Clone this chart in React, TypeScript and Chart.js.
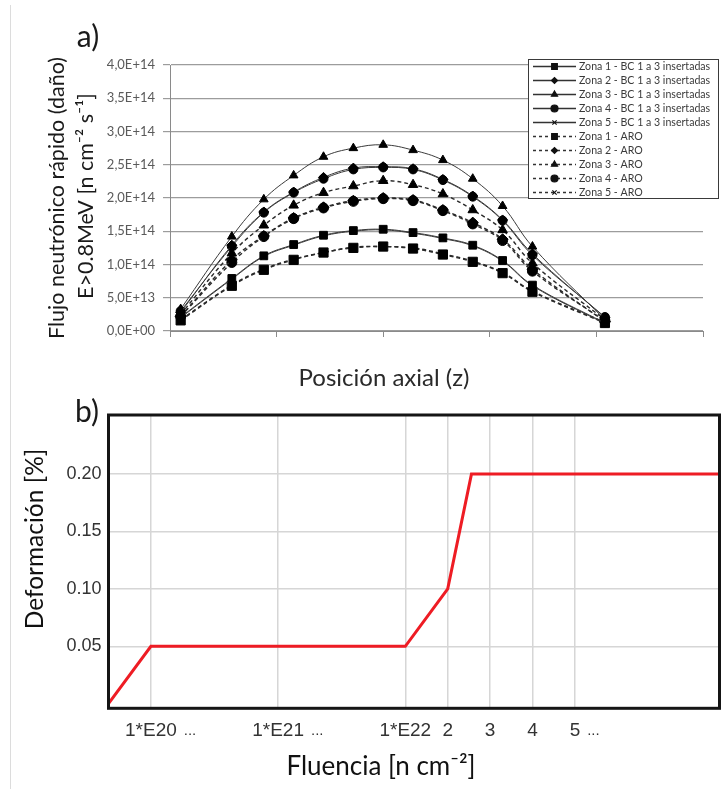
import React, { useEffect, useRef } from 'react';
import { Chart, registerables } from 'chart.js';
import { drawPoint } from 'chart.js/helpers';

Chart.register(...registerables);

// ---------------- Panel a) data ----------------
const AXIAL_POSITIONS = [5, 29, 44, 58, 72, 86, 100, 114, 128, 142, 156, 170, 204];
const ZONA1_BC = [0.21, 0.79, 1.13, 1.3, 1.44, 1.51, 1.53, 1.48, 1.4, 1.29, 1.06, 0.69, 0.12];
const ZONA2_BC = [0.28, 1.29, 1.79, 2.09, 2.31, 2.45, 2.47, 2.44, 2.28, 2.03, 1.67, 1.16, 0.2];
const ZONA3_BC = [0.33, 1.42, 1.98, 2.34, 2.62, 2.75, 2.8, 2.72, 2.57, 2.29, 1.88, 1.27, 0.17];
const ZONA4_BC = [0.3, 1.27, 1.78, 2.08, 2.29, 2.43, 2.46, 2.43, 2.27, 2.02, 1.66, 1.14, 0.21];
const ZONA5_BC = [0.2, 0.78, 1.12, 1.29, 1.43, 1.5, 1.52, 1.47, 1.39, 1.28, 1.05, 0.68, 0.11];
const ZONA1_ARO = [0.16, 0.68, 0.92, 1.07, 1.18, 1.25, 1.27, 1.24, 1.15, 1.04, 0.87, 0.59, 0.12];
const ZONA2_ARO = [0.22, 1.07, 1.43, 1.7, 1.86, 1.96, 2.0, 1.97, 1.82, 1.63, 1.38, 0.93, 0.14];
const ZONA3_ARO = [0.25, 1.17, 1.59, 1.89, 2.08, 2.18, 2.26, 2.2, 2.06, 1.82, 1.52, 1.02, 0.17];
const ZONA4_ARO = [0.22, 1.03, 1.42, 1.69, 1.85, 1.95, 1.99, 1.96, 1.81, 1.61, 1.36, 0.9, 0.15];
const ZONA5_ARO = [0.17, 0.69, 0.93, 1.08, 1.18, 1.26, 1.27, 1.25, 1.16, 1.05, 0.88, 0.6, 0.13];
const FLUX_UNIT = 1e14;
const SERIES_LABELS = [
  'Zona 1 - BC 1 a 3 insertadas',
  'Zona 2 - BC 1 a 3 insertadas',
  'Zona 3 - BC 1 a 3 insertadas',
  'Zona 4 - BC 1 a 3 insertadas',
  'Zona 5 - BC 1 a 3 insertadas',
  'Zona 1 - ARO',
  'Zona 2 - ARO',
  'Zona 3 - ARO',
  'Zona 4 - ARO',
  'Zona 5 - ARO',
];
const SERIES_VALUES = [ZONA1_BC, ZONA2_BC, ZONA3_BC, ZONA4_BC, ZONA5_BC, ZONA1_ARO, ZONA2_ARO, ZONA3_ARO, ZONA4_ARO, ZONA5_ARO];
const FLUX_TICK_VALUES = [0, 0.5, 1, 1.5, 2, 2.5, 3, 3.5, 4];
const FLUX_TICK_LABELS = ['0,0E+00', '5,0E+13', '1,0E+14', '1,5E+14', '2,0E+14', '2,5E+14', '3,0E+14', '3,5E+14', '4,0E+14'];
const AXIAL_TICKS = [0, 50, 100, 150, 200, 250];

// ---------------- Panel b) data ----------------
const FLUENCE_POS = [0, 1, 7, 8, 8.56, 14.41];
const STRAIN = [0, 0.05, 0.05, 0.1, 0.2, 0.2];
const FLUENCE_TICK_POS = [1, 4, 7, 8, 9, 10, 11];
const FLUENCE_TICK_LABELS = ['1*E20', '1*E21', '1*E22', '2', '3', '4', '5'];
const FLUENCE_TICK_SUFFIX = ['...', '...', '', '', '', '', '...'];
const STRAIN_TICKS = [0.05, 0.1, 0.15, 0.2];

// ---------------- styles ----------------
const POINT_STYLES = ['rect', 'rectRot', 'triangle', 'circle', 'crossRot'];
const POINT_RADII_BC = [5.5, 5, 5, 4.5, 4];
const POINT_RADII_ARO = [6.5, 5.5, 5.5, 5, 4];
const LEGEND_RADII = [4, 3, 3.5, 3.5, 3];
const SANS = 'Lato, "Open Sans", sans-serif';
const ARIAL = '"Liberation Sans", Arial, sans-serif';

type Caption = { text: string; x: number; y: number; font: string; color: string; rotate?: boolean; align?: CanvasTextAlign };

const captionsPlugin = (id: string, items: Caption[]) => ({
  id,
  afterDraw(chart: any) {
    const ctx = chart.ctx as CanvasRenderingContext2D;
    items.forEach((c) => {
      ctx.save();
      ctx.font = c.font;
      ctx.fillStyle = c.color;
      ctx.textAlign = c.align || 'center';
      ctx.textBaseline = 'middle';
      ctx.translate(c.x, c.y);
      if (c.rotate) ctx.rotate(-Math.PI / 2);
      ctx.fillText(c.text, 0, 0);
      ctx.restore();
    });
  },
});

const legendBoxPlugin = {
  id: 'legendBox',
  afterDraw(chart: any) {
    const ctx = chart.ctx as CanvasRenderingContext2D;
    const x0 = 528.5, y0 = 59.5, w = 190, h = 139;
    ctx.save();
    ctx.fillStyle = '#ffffff';
    ctx.fillRect(x0, y0, w, h);
    ctx.strokeStyle = '#3a3a3a';
    ctx.lineWidth = 1;
    ctx.strokeRect(x0, y0, w, h);
    chart.data.datasets.forEach((ds: any, i: number) => {
      const y = 66.5 + i * 14;
      ctx.strokeStyle = '#333';
      ctx.lineWidth = 1.3;
      ctx.setLineDash(ds.borderDash && ds.borderDash.length ? [3, 3] : []);
      ctx.beginPath();
      ctx.moveTo(533, y);
      ctx.lineTo(576, y);
      ctx.stroke();
      ctx.setLineDash([]);
      ctx.fillStyle = '#111';
      ctx.strokeStyle = '#111';
      ctx.lineWidth = 1.2;
      drawPoint(ctx, { pointStyle: ds.pointStyle, radius: LEGEND_RADII[i % 5], rotation: 0, borderWidth: 1 } as any, 554.5, y);
      ctx.fillStyle = '#3a3a3a';
      ctx.font = `10.6px ${SANS}`;
      ctx.textAlign = 'left';
      ctx.textBaseline = 'middle';
      ctx.fillText(ds.label, 579, y + 0.5);
    });
    ctx.restore();
  },
};

const framePlugin = {
  id: 'frame',
  afterDraw(chart: any) {
    const { ctx, chartArea } = chart;
    ctx.save();
    ctx.strokeStyle = '#151515';
    ctx.lineWidth = 3;
    ctx.strokeRect(chartArea.left, chartArea.top, chartArea.right - chartArea.left, chartArea.bottom - chartArea.top);
    ctx.restore();
  },
};

const ellipsisPlugin = {
  id: 'ellipsis',
  afterDraw(chart: any) {
    const ctx = chart.ctx as CanvasRenderingContext2D;
    const xs = chart.scales.x;
    ctx.save();
    ctx.fillStyle = '#333';
    ctx.textAlign = 'left';
    ctx.textBaseline = 'alphabetic';
    FLUENCE_TICK_POS.forEach((v, i) => {
      const suf = FLUENCE_TICK_SUFFIX[i];
      if (!suf) return;
      const px = xs.getPixelForValue(v);
      ctx.font = `19px ${ARIAL}`;
      const w = ctx.measureText(FLUENCE_TICK_LABELS[i]).width;
      ctx.font = `15px ${ARIAL}`;
      ctx.fillText(suf, px + w / 2 + 7, 343);
    });
    ctx.restore();
  },
};

export default function App() {
  const refA = useRef<HTMLCanvasElement>(null);
  const refB = useRef<HTMLCanvasElement>(null);

  useEffect(() => {
    const datasets = SERIES_VALUES.map((vals, i) => {
      const aro = i >= 5;
      const k = i % 5;
      return {
        label: SERIES_LABELS[i],
        data: AXIAL_POSITIONS.map((x, j) => ({ x, y: vals[j] * FLUX_UNIT })),
        borderColor: aro ? '#2a2a2a' : '#3a3a3a',
        borderWidth: aro ? 1.4 : 1,
        borderDash: aro ? [4, 3] : [],
        pointStyle: POINT_STYLES[k],
        pointRadius: aro ? POINT_RADII_ARO[k] : POINT_RADII_BC[k],
        pointBackgroundColor: '#000',
        pointBorderColor: '#000',
        pointBorderWidth: k === 4 ? 1.5 : 1,
        tension: 0.4,
        fill: false,
      };
    });

    const chartA = new Chart(refA.current!, {
      type: 'line',
      data: { datasets: datasets as any },
      options: {
        responsive: false,
        animation: false,
        devicePixelRatio: 1,
        layout: { padding: { left: 0, right: 18, top: 65, bottom: 0 } },
        plugins: { legend: { display: false }, tooltip: { enabled: false } },
        scales: {
          x: {
            type: 'linear',
            min: 0,
            max: 250,
            afterBuildTicks: (s: any) => { s.ticks = AXIAL_TICKS.map((v) => ({ value: v })); },
            afterFit: (s: any) => { s.height = 392 - 331; },
            ticks: { display: false },
            grid: { drawOnChartArea: false, drawTicks: true, tickLength: 6, color: '#8a8a8a' },
            border: { color: '#8a8a8a', width: 1 },
          },
          y: {
            type: 'linear',
            min: 0,
            max: 4 * FLUX_UNIT,
            afterBuildTicks: (s: any) => { s.ticks = FLUX_TICK_VALUES.map((v) => ({ value: v * FLUX_UNIT })); },
            afterFit: (s: any) => { s.width = 170; },
            ticks: {
              callback: (_v: any, i: number) => FLUX_TICK_LABELS[i],
              font: { family: SANS, size: 13 },
              color: '#5a5a5a',
              padding: 8,
            },
            grid: { color: '#9c9c9c', lineWidth: 1.2, tickLength: 7 },
            border: { color: '#8a8a8a', width: 1 },
          },
        },
      },
      plugins: [
        legendBoxPlugin,
        captionsPlugin('capA', [
          { text: 'a)', x: 88, y: 37, font: `30px ${SANS}`, color: '#1a1a1a' },
          { text: 'Flujo neutrónico rápido (daño)', x: 57, y: 198, font: `21.5px ${SANS}`, color: '#1a1a1a', rotate: true },
          { text: 'E>0.8MeV [n cm⁻² s⁻¹]', x: 86, y: 196, font: `21.5px ${SANS}`, color: '#1a1a1a', rotate: true },
          { text: 'Posición axial (z)', x: 384, y: 378, font: `24px ${SANS}`, color: '#2a2a2a' },
        ]),
      ],
    } as any);

    const chartB = new Chart(refB.current!, {
      type: 'line',
      data: {
        datasets: [
          {
            label: 'Deformación',
            data: FLUENCE_POS.map((x, i) => ({ x, y: STRAIN[i] })),
            borderColor: '#ee1c24',
            borderWidth: 3,
            pointRadius: 0,
            tension: 0,
            fill: false,
          },
        ],
      },
      options: {
        responsive: false,
        animation: false,
        devicePixelRatio: 1,
        layout: { padding: { left: 0, right: 1, top: 23, bottom: 0 } },
        plugins: { legend: { display: false }, tooltip: { enabled: false } },
        scales: {
          x: {
            type: 'linear',
            min: 0,
            max: 14.41,
            afterBuildTicks: (s: any) => { s.ticks = FLUENCE_TICK_POS.map((v) => ({ value: v })); },
            afterFit: (s: any) => { s.height = 397 - 316.3; },
            ticks: {
              autoSkip: false,
              maxRotation: 0,
              callback: (_v: any, i: number) => FLUENCE_TICK_LABELS[i],
              font: { family: ARIAL, size: 19 },
              color: '#333',
              padding: 11,
            },
            grid: { color: '#d6d6d6', lineWidth: 1.5, drawTicks: false },
            border: { display: false },
          },
          y: {
            type: 'linear',
            min: -0.004,
            max: 0.2515,
            afterBuildTicks: (s: any) => { s.ticks = STRAIN_TICKS.map((v) => ({ value: v })); },
            afterFit: (s: any) => { s.width = 108.5; },
            ticks: {
              callback: (v: any) => Number(v).toFixed(2),
              font: { family: ARIAL, size: 18 },
              color: '#333',
              padding: 7,
            },
            grid: { color: '#d6d6d6', lineWidth: 1.5, drawTicks: false },
            border: { display: false },
          },
        },
      },
      plugins: [
        framePlugin,
        ellipsisPlugin,
        captionsPlugin('capB', [
          { text: 'b)', x: 87, y: 20, font: `30px ${SANS}`, color: '#1a1a1a' },
          { text: 'Deformación [%]', x: 35, y: 147, font: `24.5px ${SANS}`, color: '#111', rotate: true },
          { text: 'Fluencia [n cm⁻²]', x: 381, y: 375, font: `26px ${SANS}`, color: '#111' },
        ]),
      ],
    } as any);

    let alive = true;
    if ((document as any).fonts && (document as any).fonts.ready) {
      (document as any).fonts.ready.then(() => {
        if (alive) { chartA.update(); chartB.update(); }
      });
    }

    return () => {
      alive = false;
      chartA.destroy();
      chartB.destroy();
    };
  }, []);

  return (
    <div style={{ position: 'absolute', left: 0, top: 0, width: 721, height: 789, background: '#fff', overflow: 'hidden' }}>
      <div style={{ position: 'absolute', left: 10, top: 5, width: 1, height: 784, background: '#dcdcdc' }} />
      <canvas ref={refA} width={721} height={392} style={{ position: 'absolute', left: 0, top: 0, width: 721, height: 392 }} />
      <canvas ref={refB} width={721} height={397} style={{ position: 'absolute', left: 0, top: 392, width: 721, height: 397 }} />
    </div>
  );
}
